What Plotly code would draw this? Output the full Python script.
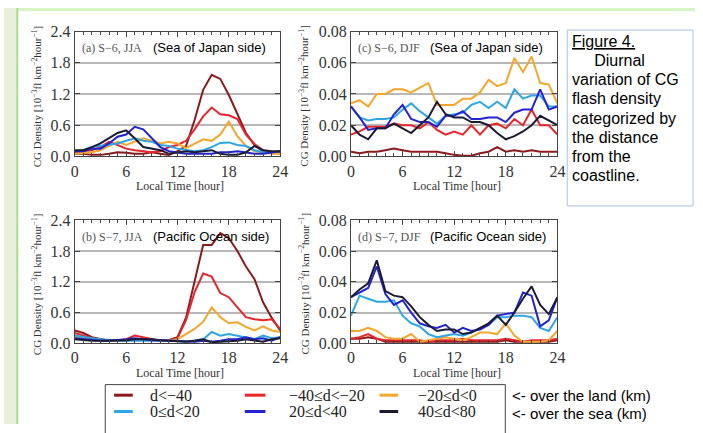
import plotly.graph_objects as go

W, H = 703, 433

hours = list(range(25))

series_names = ["d<−40", "−40≤d<−20", "−20≤d<0", "0≤d<20", "20≤d<40", "40≤d<80"]
series_colors = ["#8c1a1c", "#e8252a", "#f4a72c", "#2ea6e6", "#2323d2", "#1b1b33"]

# (a) S-6, JJA
a_dkred = [0.05,0.05,0.03,0.03,0.05,0.08,0.07,0.05,0.05,0.08,0.05,0.03,0.10,0.20,0.70,1.28,1.57,1.49,1.18,0.82,0.45,0.22,0.10,0.08,0.07]
a_red = [0.08,0.10,0.12,0.18,0.28,0.22,0.15,0.12,0.10,0.08,0.10,0.18,0.22,0.30,0.52,0.77,0.94,0.81,0.79,0.72,0.42,0.24,0.12,0.08,0.05]
a_orange = [0.05,0.06,0.08,0.12,0.20,0.28,0.22,0.28,0.35,0.30,0.25,0.28,0.25,0.16,0.24,0.33,0.30,0.42,0.67,0.39,0.20,0.10,0.08,0.05,0.05]
a_ltblue = [0.10,0.12,0.18,0.20,0.22,0.25,0.30,0.35,0.30,0.28,0.22,0.20,0.15,0.12,0.10,0.12,0.18,0.26,0.27,0.22,0.20,0.12,0.08,0.08,0.10]
a_blue = [0.10,0.10,0.15,0.15,0.25,0.38,0.42,0.57,0.52,0.35,0.18,0.10,0.08,0.05,0.05,0.05,0.05,0.08,0.08,0.10,0.08,0.05,0.05,0.08,0.10]
a_black = [0.12,0.12,0.18,0.25,0.35,0.45,0.50,0.35,0.18,0.15,0.12,0.05,0.08,0.10,0.08,0.10,0.12,0.05,0.03,0.03,0.08,0.20,0.12,0.10,0.10]

# (b) S-7, JJA
b_dkred = [0.25,0.20,0.12,0.08,0.05,0.05,0.05,0.08,0.08,0.06,0.05,0.06,0.12,0.50,1.20,1.92,1.92,2.15,2.05,1.80,1.50,1.25,0.80,0.50,0.25]
b_red = [0.20,0.15,0.10,0.07,0.05,0.05,0.08,0.15,0.12,0.08,0.05,0.06,0.10,0.45,1.00,1.36,1.30,0.98,0.90,0.70,0.51,0.47,0.45,0.47,0.28]
b_orange = [0.12,0.10,0.08,0.05,0.05,0.05,0.05,0.08,0.08,0.06,0.05,0.05,0.08,0.18,0.28,0.42,0.70,0.51,0.39,0.41,0.32,0.25,0.33,0.25,0.22]
b_ltblue = [0.15,0.12,0.10,0.08,0.06,0.05,0.05,0.05,0.06,0.06,0.05,0.05,0.05,0.03,0.05,0.08,0.22,0.15,0.18,0.15,0.12,0.08,0.15,0.10,0.12]
b_blue = [0.10,0.08,0.06,0.05,0.05,0.06,0.08,0.10,0.08,0.06,0.06,0.05,0.05,0.03,0.03,0.05,0.03,0.05,0.08,0.08,0.12,0.08,0.10,0.05,0.12]
b_black = [0.08,0.06,0.05,0.05,0.05,0.05,0.06,0.08,0.08,0.08,0.06,0.05,0.05,0.03,0.05,0.08,0.02,0.03,0.05,0.05,0.08,0.05,0.03,0.08,0.10]

# (c) S-6, DJF
c_dkred = [0.003,0.002,0.003,0.003,0.004,0.005,0.004,0.003,0.003,0.003,0.003,0.002,0.001,0.0005,0.0005,0.002,0.003,0.006,0.003,0.004,0.003,0.004,0.003,0.003,0.003]
c_red = [0.014,0.016,0.019,0.019,0.019,0.021,0.020,0.020,0.018,0.022,0.017,0.014,0.016,0.014,0.020,0.014,0.020,0.021,0.018,0.024,0.020,0.030,0.020,0.020,0.014]
c_orange = [0.034,0.036,0.032,0.040,0.040,0.043,0.043,0.041,0.044,0.047,0.033,0.033,0.033,0.037,0.037,0.041,0.049,0.045,0.047,0.063,0.054,0.064,0.047,0.046,0.034]
c_ltblue = [0.032,0.025,0.023,0.024,0.024,0.025,0.030,0.034,0.029,0.025,0.021,0.026,0.027,0.028,0.033,0.035,0.031,0.035,0.031,0.043,0.037,0.039,0.039,0.032,0.032]
c_blue = [0.032,0.025,0.017,0.018,0.018,0.027,0.033,0.024,0.022,0.022,0.019,0.026,0.026,0.029,0.024,0.024,0.025,0.025,0.022,0.028,0.030,0.030,0.043,0.030,0.032]
c_black = [0.020,0.014,0.011,0.018,0.018,0.021,0.018,0.015,0.020,0.025,0.035,0.027,0.025,0.025,0.022,0.022,0.020,0.015,0.011,0.013,0.016,0.020,0.026,0.023,0.020]

# (d) S-7, DJF
d_dkred = [0.003,0.003,0.004,0.003,0.001,0.001,0.001,0.001,0.001,0.001,0.001,0.001,0.001,0.001,0.001,0.001,0.001,0.001,0.002,0.001,0.001,0.001,0.001,0.001,0.002]
d_red = [0.003,0.004,0.006,0.003,0.002,0.002,0.002,0.002,0.002,0.001,0.002,0.002,0.002,0.003,0.002,0.002,0.002,0.002,0.003,0.002,0.001,0.002,0.002,0.002,0.003]
d_orange = [0.008,0.008,0.010,0.008,0.004,0.003,0.003,0.006,0.001,0.002,0.003,0.004,0.003,0.002,0.004,0.007,0.007,0.006,0.013,0.005,0.001,0.001,0.001,0.002,0.008]
d_ltblue = [0.018,0.031,0.029,0.027,0.027,0.028,0.018,0.013,0.011,0.006,0.004,0.005,0.006,0.005,0.007,0.010,0.012,0.017,0.017,0.018,0.018,0.017,0.010,0.008,0.017]
d_blue = [0.030,0.033,0.036,0.050,0.032,0.025,0.028,0.020,0.013,0.011,0.010,0.012,0.007,0.010,0.008,0.009,0.012,0.018,0.019,0.020,0.033,0.031,0.011,0.015,0.030]
d_black = [0.030,0.035,0.039,0.054,0.034,0.031,0.030,0.024,0.017,0.012,0.008,0.009,0.009,0.006,0.007,0.010,0.013,0.018,0.012,0.020,0.029,0.037,0.025,0.019,0.030]

panel_series = {
    "a": [a_dkred, a_red, a_orange, a_ltblue, a_blue, a_black],
    "b": [b_dkred, b_red, b_orange, b_ltblue, b_blue, b_black],
    "c": [c_dkred, c_red, c_orange, c_ltblue, c_blue, c_black],
    "d": [d_dkred, d_red, d_orange, d_ltblue, d_blue, d_black],
}

x_tick_vals = [0, 6, 12, 18, 24]
jja_tick_vals = [0, 0.6, 1.2, 1.8, 2.4]
jja_tick_text = ["0.0", "0.6", "1.2", "1.8", "2.4"]
djf_tick_vals = [0, 0.02, 0.04, 0.06, 0.08]
djf_tick_text = ["0.00", "0.02", "0.04", "0.06", "0.08"]

panel_labels = {"a": "(a) S−6, JJA", "b": "(b) S−7, JJA", "c": "(c) S−6, DJF", "d": "(d) S−7, DJF"}
panel_sides = {"a": "(Sea of Japan side)", "b": "(Pacific Ocean side)",
               "c": "(Sea of Japan side)", "d": "(Pacific Ocean side)"}
x_title = "Local Time [hour]"
y_title = "CG Density [10<sup>−3</sup>fl km<sup>−2</sup>hour<sup>−1</sup>]"
caption_lines = ["<u>Figure 4.</u>", "&nbsp;&nbsp;&nbsp;&nbsp;&nbsp;Diurnal", "variation of CG",
                 "flash density", "categorized by", "the distance", "from the", "coastline."]
legend_notes = ["<- over the land (km)", "<- over the sea (km)"]

SERIF = "Liberation Serif"
SANS = "Liberation Sans"


def px(x):
    return x / W


def py(y):
    return 1 - y / H


# panel geometry in pixels: left, right, top, bottom
geom = {
    "a": (72, 281, 24.5, 154.5),
    "c": (353, 563, 24.5, 154.5),
    "b": (72, 281, 221, 349),
    "d": (353, 563, 221, 349),
}
axis_ids = {"a": "", "c": "2", "b": "3", "d": "4"}

fig = go.Figure()
layout = dict(
    width=W, height=H, margin=dict(l=0, r=0, t=0, b=0),
    paper_bgcolor="white", plot_bgcolor="white", showlegend=False,
)

annotations = []
shapes = []

for key in ["a", "c", "b", "d"]:
    l, r, t, b = geom[key]
    aid = axis_ids[key]
    xname, yname = "xaxis" + aid, "yaxis" + aid
    xref, yref = "x" + aid, "y" + aid
    jja = key in ("a", "b")
    layout[xname] = dict(
        domain=[px(l), px(r)], anchor=yref, range=[0, 24], tickvals=x_tick_vals,
        ticks="inside", ticklen=5, tickcolor="#444", showline=True, linecolor="#444",
        linewidth=1, mirror="ticks", showgrid=False, zeroline=False,
        tickfont=dict(family=SERIF, size=16, color="#333"),
        minor=dict(dtick=1, ticks="inside", ticklen=3, tickcolor="#444"),
    )
    layout[yname] = dict(
        domain=[py(b), py(t)], anchor=xref,
        range=[0, 2.4] if jja else [0, 0.08],
        tickvals=jja_tick_vals if jja else djf_tick_vals,
        ticktext=jja_tick_text if jja else djf_tick_text,
        ticks="inside", ticklen=5, tickcolor="#444", showline=True, linecolor="#444",
        linewidth=1, mirror="ticks", showgrid=True, gridcolor="#b8b8b8", gridwidth=1.8,
        zeroline=False, tickfont=dict(family=SERIF, size=16, color="#333"),
    )
    for vals, name, color in zip(panel_series[key], series_names, series_colors):
        fig.add_trace(go.Scatter(x=hours, y=vals, mode="lines", name=name,
                                 line=dict(color=color, width=2),
                                 xaxis=xref, yaxis=yref, hoverinfo="skip"))
    # panel label
    annotations.append(dict(x=px(l + 5), y=py(t + 17), xref="paper", yref="paper",
                            text=panel_labels[key], showarrow=False, xanchor="left",
                            yanchor="middle", font=dict(family=SERIF, size=12, color="#555")))
    annotations.append(dict(x=px(l + 78), y=py(t + 17), xref="paper", yref="paper",
                            text=panel_sides[key], showarrow=False, xanchor="left",
                            yanchor="middle", font=dict(family=SANS, size=13, color="#000")))
    # x title
    annotations.append(dict(x=px((l + r) / 2 + 3), y=py(b + 31), xref="paper", yref="paper",
                            text=x_title, showarrow=False, xanchor="center", yanchor="middle",
                            font=dict(family=SERIF, size=12, color="#333")))
    # y title
    annotations.append(dict(x=px(l - 39 if jja else l - 48), y=py((t + b) / 2 + 2),
                            xref="paper", yref="paper", text=y_title, showarrow=False,
                            textangle=-90, xanchor="center", yanchor="middle",
                            font=dict(family=SERIF, size=11, color="#333")))

# page decoration
shapes.append(dict(type="rect", xref="paper", yref="paper", x0=0, x1=px(13), y0=0, y1=1,
                   fillcolor="#eaeedd", line=dict(width=0), layer="below"))
shapes.append(dict(type="rect", xref="paper", yref="paper", x0=px(14), x1=1, y0=py(3), y1=1,
                   fillcolor="#d6f4c6", line=dict(width=0), layer="below"))
shapes.append(dict(type="line", xref="paper", yref="paper", x0=px(13.5), x1=px(13.5), y0=0, y1=1,
                   line=dict(color="#a3de8a", width=2), layer="below"))

# caption box
shapes.append(dict(type="rect", xref="paper", yref="paper", x0=px(573), x1=px(701),
                   y0=py(206), y1=py(23), fillcolor="white",
                   line=dict(color="#a9c2de", width=1)))
for i, line in enumerate(caption_lines):
    annotations.append(dict(x=px(576), y=py(35 + 19.9 * i), xref="paper", yref="paper",
                            text=line, showarrow=False, xanchor="left", yanchor="middle",
                            align="left", font=dict(family=SANS, size=16, color="#000")))

# legend box
shapes.append(dict(type="rect", xref="paper", yref="paper", x0=px(103), x1=px(510),
                   y0=py(445), y1=py(392), fillcolor="white",
                   line=dict(color="#444", width=1)))
leg_cols = [(112, 131, 146), (245, 266, 288), (382, 401, 419)]
leg_rows = [403, 420]
for i, (name, color) in enumerate(zip(series_names, series_colors)):
    row, col = divmod(i, 3)
    x0, x1, xt = leg_cols[col]
    yy = leg_rows[row]
    shapes.append(dict(type="line", xref="paper", yref="paper", x0=px(x0), x1=px(x1),
                       y0=py(yy), y1=py(yy), line=dict(color=color, width=3)))
    annotations.append(dict(x=px(xt), y=py(yy), xref="paper", yref="paper", text=name,
                            showarrow=False, xanchor="left", yanchor="middle",
                            font=dict(family=SERIF, size=16, color="#222")))
for note, yy in zip(legend_notes, [403, 422]):
    annotations.append(dict(x=px(515), y=py(yy), xref="paper", yref="paper", text=note,
                            showarrow=False, xanchor="left", yanchor="middle",
                            font=dict(family=SANS, size=15, color="#000")))

layout["annotations"] = annotations
layout["shapes"] = shapes
fig.update_layout(**layout)
fig.write_html("out.html", config={"displayModeBar": False},
               post_script="document.body.style.margin='0';document.body.style.overflow='hidden';")
